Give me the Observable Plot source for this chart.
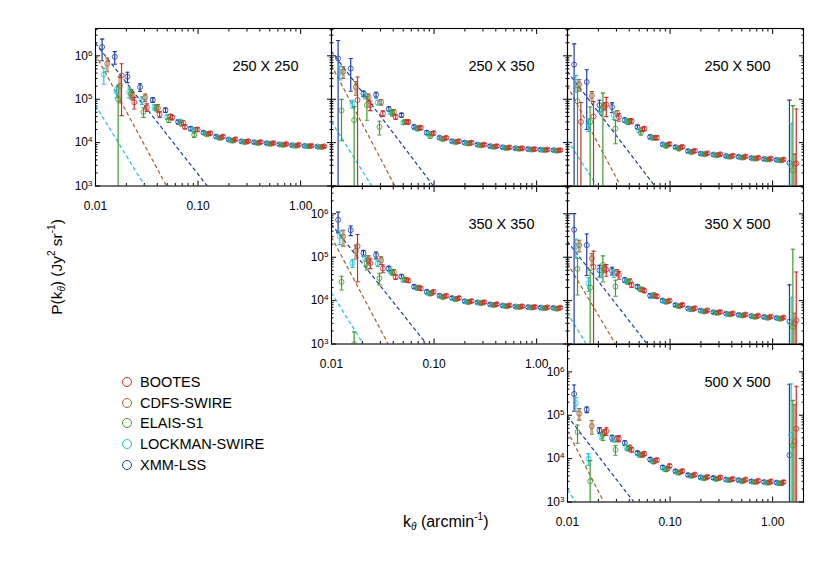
<!DOCTYPE html>
<html><head><meta charset="utf-8">
<script src="https://cdn.jsdelivr.net/npm/d3@7"></script>
<script src="https://cdn.jsdelivr.net/npm/@observablehq/plot@0.6"></script>
<style>
body{margin:0;background:#fff;}
#root{position:relative;width:830px;height:561px;font-family:"Liberation Sans",Arial,Helvetica,sans-serif;color:#000;overflow:hidden;background:#fff}
.ttl{position:absolute;white-space:nowrap;font-size:15.5px;line-height:1}
.ttl sub{font-size:10px;vertical-align:-3px;font-style:italic}
.ttl sup{font-size:10px;vertical-align:7px}
.leg{position:absolute;left:122px;height:18px;display:flex;align-items:center;font-size:14.5px;white-space:nowrap}
.leg span.c{display:inline-block;width:8px;height:8px;border-radius:50%;border:1.6px solid;margin-right:8px;box-sizing:content-box}
</style></head><body><div id="root"></div>
<script>
// ---------- data ----------
const kBins = [0.0116, 0.0154, 0.0205, 0.0272, 0.0362, 0.0481, 0.0639, 0.0849, 0.113, 0.150, 0.199, 0.265, 0.352, 0.468, 0.622, 0.826, 1.098, 1.459];
const seriesNames = ["BOOTES", "CDFS-SWIRE", "ELAIS-S1", "LOCKMAN-SWIRE", "XMM-LSS"];
const seriesColors = ["#d42a2a", "#a0602a", "#3d9c2c", "#22c4dc", "#1f3ca8"];
const panelLabels = ["250 X 250", "250 X 350", "250 X 500", "350 X 350", "350 X 500", "500 X 500"];
const xTickValues = [0.01, 0.1, 1];
const yTickValues = [1e3, 1e4, 1e5, 1e6];

// power spectra, rows = BOOTES, CDFS-SWIRE, ELAIS-S1, LOCKMAN-SWIRE, XMM-LSS
const pow250x250 = [
 [null,3.5e5,8.5e4,6.5e4,4.5e4,3.8e4,2.3e4,2.0e4,1.65e4,1.38e4,1.2e4,1.08e4,1.03e4,9.8e3,9.3e3,8.9e3,8.5e3,8.2e3],
 [6.6e5,2.05e5,1.2e5,1.1e5,6.3e4,4.0e4,2.9e4,2.0e4,1.6e4,1.3e4,1.13e4,1.05e4,1.0e4,9.5e3,9.0e3,8.6e3,8.3e3,8.0e3],
 [null,1.0e5,1.35e5,5.1e4,6.3e4,3.3e4,2.7e4,1.5e4,1.55e4,1.28e4,1.1e4,1.02e4,9.7e3,9.3e3,8.8e3,8.4e3,8.2e3,7.9e3],
 [3.7e5,1.5e5,1.45e5,9.5e4,6.6e4,3.9e4,3.1e4,2.0e4,1.62e4,1.33e4,1.15e4,1.05e4,1.0e4,9.5e3,9.0e3,8.6e3,8.3e3,8.0e3],
 [1.6e6,9.5e5,3.3e5,1.9e5,9.6e4,5.6e4,3.0e4,2.1e4,1.7e4,1.38e4,1.18e4,1.07e4,1.02e4,9.7e3,9.1e3,8.7e3,8.4e3,8.1e3]];
const err250x250 = [
 [null,.88,.3,.2,.15,.12,.1,.1,.08,.08,.07,.07,.07,.06,.06,.06,.06,.06],
 [.35,.6,.2,.2,.2,.12,.1,.1,.08,.08,.07,.07,.07,.06,.06,.06,.06,.06],
 [null,1.1,.25,.25,.15,.12,.1,.12,.08,.08,.07,.07,.07,.06,.06,.06,.06,.06],
 [.4,.28,.25,.2,.15,.12,.1,.1,.08,.08,.07,.07,.07,.06,.06,.06,.06,.06],
 [.52,.32,.27,.2,.12,.12,.1,.1,.08,.08,.07,.07,.07,.06,.06,.06,.06,.06]];

const pow250x350 = [
 [null,9.6e4,7.3e4,4.7e4,3.9e4,3.0e4,2.2e4,1.65e4,1.3e4,1.08e4,1.0e4,9.0e3,8.3e3,7.8e3,7.4e3,7.1e3,6.9e3,6.7e3],
 [4.3e5,1.9e5,1.1e5,8.6e4,5.1e4,3.0e4,2.2e4,1.6e4,1.25e4,1.05e4,9.7e3,8.8e3,8.1e3,7.6e3,7.3e3,7.0e3,6.8e3,6.6e3],
 [5.5e4,3.3e4,7.3e4,2.3e4,4.8e4,3.0e4,2.1e4,1.4e4,1.2e4,1.02e4,9.5e3,8.6e3,8.0e3,7.5e3,7.2e3,6.9e3,6.7e3,6.5e3],
 [4.3e5,7.9e4,1.2e5,8.4e4,5.1e4,2.9e4,2.2e4,1.6e4,1.25e4,1.05e4,9.8e3,8.8e3,8.1e3,7.6e3,7.3e3,7.0e3,6.8e3,6.6e3],
 [8.7e5,5.1e5,1.35e5,1.26e5,6.0e4,4.3e4,2.3e4,1.7e4,1.3e4,1.08e4,1.0e4,9.0e3,8.3e3,7.8e3,7.4e3,7.1e3,6.9e3,6.7e3]];
const err250x350 = [
 [null,2.4,.25,.15,.12,.1,.1,.1,.08,.08,.08,.07,.07,.07,.07,.07,.07,.07],
 [.3,.35,.2,.15,.12,.1,.1,.1,.08,.08,.08,.07,.07,.07,.07,.07,.07,.07],
 [.8,1.05,.55,.35,.15,.12,.1,.1,.08,.08,.08,.07,.07,.07,.07,.07,.07,.07],
 [.35,.2,.15,.12,.12,.1,.1,.1,.08,.08,.08,.07,.07,.07,.07,.07,.07,.07],
 [1.6,.7,.15,.15,.12,.1,.1,.1,.08,.08,.08,.07,.07,.07,.07,.07,.07,.07]];

const pow250x500 = [
 [3.0e4,4.0e4,7.5e4,3.9e4,3.1e4,2.1e4,1.3e4,9.3e3,8.0e3,6.5e3,5.7e3,5.4e3,5.0e3,4.8e3,4.5e3,4.3e3,4.1e3,3.3e3],
 [2.2e5,1.2e5,7.0e4,4.8e4,3.2e4,2.0e4,1.3e4,8.9e3,7.7e3,6.3e3,5.5e3,5.2e3,4.8e3,4.6e3,4.3e3,4.1e3,3.9e3,3.2e3],
 [9.0e4,3.0e4,6.6e4,2.1e4,3.0e4,1.7e4,1.3e4,8.3e3,7.2e3,6.0e3,5.4e3,5.1e3,4.7e3,4.5e3,4.3e3,4.1e3,3.9e3,2.3e3],
 [2.5e5,2.7e4,5.6e4,4.3e4,3.1e4,1.9e4,1.3e4,8.8e3,7.6e3,6.2e3,5.5e3,5.2e3,4.8e3,4.6e3,4.3e3,4.1e3,3.9e3,3.1e3],
 [6.3e5,2.5e5,7.3e4,6.6e4,3.3e4,2.3e4,1.35e4,9.1e3,7.9e3,6.4e3,5.6e3,5.3e3,4.9e3,4.7e3,4.4e3,4.2e3,4.0e3,3.4e3]];
const err250x500 = [
 [1.8,1.2,.47,.2,.12,.1,.1,.08,.08,.08,.07,.07,.07,.07,.07,.07,.07,17],
 [.3,.25,.2,.15,.12,.1,.1,.08,.08,.08,.07,.07,.07,.07,.07,.07,.07,.7],
 [1.1,1.2,1.1,.55,.12,.12,.1,.08,.08,.08,.07,.07,.07,.07,.07,.07,.07,30],
 [.42,.33,.2,.2,.12,.1,.1,.08,.08,.08,.07,.07,.07,.07,.07,.07,.07,8],
 [2.0,.92,.3,.25,.12,.1,.1,.08,.08,.08,.07,.07,.07,.07,.07,.07,.07,27]];

const pow350x350 = [
 [null,1.8e5,7.3e4,5.5e4,3.5e4,2.9e4,1.9e4,1.6e4,1.3e4,1.15e4,9.8e3,9.2e3,8.3e3,7.8e3,7.4e3,7.2e3,7.0e3,6.9e3],
 [3.0e5,1.4e5,9.0e4,8.5e4,4.6e4,3.0e4,2.0e4,1.5e4,1.25e4,1.1e4,9.4e3,8.9e3,8.0e3,7.5e3,7.2e3,7.0e3,6.8e3,6.6e3],
 [2.7e4,1.0e3,7.3e4,3.3e4,4.4e4,3.1e4,1.95e4,1.45e4,1.2e4,1.08e4,9.2e3,8.7e3,7.9e3,7.4e3,7.1e3,6.9e3,6.7e3,6.5e3],
 [3.0e5,7.3e4,9.5e4,7.2e4,4.8e4,3.0e4,2.0e4,1.5e4,1.25e4,1.1e4,9.4e3,8.9e3,8.0e3,7.5e3,7.2e3,7.0e3,6.8e3,6.6e3],
 [7.3e5,4.2e5,1.25e5,1.12e5,5.5e4,3.6e4,2.1e4,1.6e4,1.3e4,1.15e4,9.7e3,9.1e3,8.2e3,7.7e3,7.3e3,7.1e3,6.9e3,6.8e3]];
const err350x350 = [
 [null,.85,.25,.2,.12,.1,.1,.1,.08,.08,.08,.07,.07,.07,.07,.07,.07,.07],
 [.4,.35,.2,.2,.12,.1,.1,.1,.08,.08,.08,.07,.07,.07,.07,.07,.07,.07],
 [.35,.9,.3,.3,.12,.1,.1,.1,.08,.08,.08,.07,.07,.07,.07,.07,.07,.07],
 [.35,.2,.15,.15,.12,.1,.1,.1,.08,.08,.08,.07,.07,.07,.07,.07,.07,.07],
 [.5,.25,.15,.18,.12,.1,.1,.1,.08,.08,.08,.07,.07,.07,.07,.07,.07,.07]];

const pow350x500 = [
 [null,6.0e4,5.2e4,3.9e4,2.3e4,1.7e4,1.25e4,1.0e4,8.0e3,6.7e3,6.0e3,5.5e3,5.1e3,4.8e3,4.5e3,4.3e3,4.1e3,3.5e3],
 [1.9e5,9.4e4,5.5e4,4.5e4,2.8e4,1.8e4,1.3e4,9.6e3,7.6e3,6.4e3,5.7e3,5.3e3,4.9e3,4.6e3,4.3e3,4.1e3,3.9e3,3.0e3],
 [5.4e4,2.0e4,6.7e4,2.1e4,2.7e4,1.8e4,1.35e4,9.3e3,7.4e3,6.3e3,5.6e3,5.2e3,4.8e3,4.5e3,4.2e3,4.0e3,3.8e3,2.5e3],
 [1.8e5,2.5e4,4.5e4,4.3e4,2.8e4,1.9e4,1.25e4,9.6e3,7.6e3,6.4e3,5.7e3,5.3e3,4.9e3,4.6e3,4.3e3,4.1e3,3.9e3,3.0e3],
 [4.3e5,1.9e5,5.0e4,4.9e4,3.0e4,2.1e4,1.3e4,1.0e4,7.9e3,6.6e3,5.9e3,5.4e3,5.0e3,4.7e3,4.4e3,4.2e3,4.0e3,3.3e3]];
const err350x500 = [
 [null,1.3,.3,.2,.12,.1,.1,.08,.08,.08,.07,.07,.07,.07,.07,.07,.07,12],
 [.3,.3,.2,.15,.12,.1,.1,.08,.08,.08,.07,.07,.07,.07,.07,.07,.07,.7],
 [.75,1.5,.6,.4,.12,.1,.1,.08,.08,.08,.07,.07,.07,.07,.07,.07,.07,60],
 [.45,.35,.25,.2,.12,.1,.1,.08,.08,.08,.07,.07,.07,.07,.07,.07,.07,3],
 [1.35,.8,.3,.2,.12,.1,.1,.08,.08,.08,.07,.07,.07,.07,.07,.07,.07,6]];

const pow500x500 = [
 [null,null,4.3e4,2.9e4,1.6e4,1.3e4,9.3e3,6.8e3,5.2e3,4.3e3,3.8e3,3.7e3,3.4e3,3.3e3,3.1e3,3.0e3,2.9e3,4.9e4],
 [1.1e5,5.6e4,4.0e4,2.9e4,1.8e4,1.2e4,8.9e3,6.0e3,4.9e3,4.1e3,3.6e3,3.5e3,3.3e3,3.1e3,2.9e3,2.8e3,2.7e3,2.5e4],
 [4.1e4,3.0e3,3.5e4,1.6e4,1.7e4,1.25e4,8.5e3,5.6e3,4.7e3,4.0e3,3.5e3,3.4e3,3.2e3,3.0e3,2.9e3,2.8e3,2.7e3,2.0e4],
 [1.9e5,1.0e4,3.3e4,2.8e4,1.8e4,1.2e4,8.9e3,5.8e3,4.8e3,4.0e3,3.6e3,3.4e3,3.2e3,3.1e3,2.9e3,2.8e3,2.7e3,3.5e4],
 [3.1e5,1.35e5,4.5e4,3.0e4,2.3e4,1.35e4,9.6e3,6.3e3,5.1e3,4.2e3,3.7e3,3.6e3,3.3e3,3.2e3,3.0e3,2.9e3,2.8e3,1.2e4]];
const err500x500 = [
 [null,null,.2,.15,.12,.1,.1,.1,.08,.08,.08,.08,.08,.08,.08,.08,.08,8.5],
 [.3,.35,.15,.15,.12,.1,.1,.1,.08,.08,.08,.08,.08,.08,.08,.08,.08,6],
 [.45,2.0,.25,.25,.12,.1,.1,.1,.08,.08,.08,.08,.08,.08,.08,.08,.08,10],
 [.35,.3,.15,.15,.12,.1,.1,.1,.08,.08,.08,.08,.08,.08,.08,.08,.08,14],
 [.6,.15,.15,.15,.12,.1,.1,.1,.08,.08,.08,.08,.08,.08,.08,.08,.08,42]];

// dashed power-law components: [series, k1, P1, k2, P2]
const line250x250 = [["XMM-LSS",0.01,1.94e6,0.123,1e3],["CDFS-SWIRE",0.01,1.08e6,0.0493,1e3],["LOCKMAN-SWIRE",0.01,7.2e4,0.0303,1e3]];
const line250x350 = [["XMM-LSS",0.01,1.26e6,0.0986,1e3],["CDFS-SWIRE",0.01,6.0e5,0.0415,1e3],["LOCKMAN-SWIRE",0.01,3.0e4,0.0247,1e3]];
const line250x500 = [["XMM-LSS",0.01,4.3e5,0.071,1e3],["CDFS-SWIRE",0.01,2.0e5,0.033,1e3],["LOCKMAN-SWIRE",0.01,1.13e4,0.0193,1e3]];
const line350x350 = [["XMM-LSS",0.01,5.7e5,0.0845,1e3],["CDFS-SWIRE",0.01,2.9e5,0.0357,1e3],["LOCKMAN-SWIRE",0.01,1.5e4,0.0204,1e3]];
const line350x500 = [["XMM-LSS",0.01,2.3e5,0.0598,1e3],["CDFS-SWIRE",0.01,7.2e4,0.0294,1e3],["LOCKMAN-SWIRE",0.01,5.2e3,0.0152,1e3]];
const line500x500 = [["XMM-LSS",0.01,9.5e4,0.0444,1e3],["CDFS-SWIRE",0.01,4.3e4,0.0226,1e3],["LOCKMAN-SWIRE",0.01,1.9e3,0.012,1e3]];

// ---------- layout ----------
const panelPow = [pow250x250, pow250x350, pow250x500, pow350x350, pow350x500, pow500x500];
const panelErr = [err250x250, err250x350, err250x500, err350x350, err350x500, err500x500];
const panelLines = [line250x250, line250x350, line250x500, line350x350, line350x500, line500x500];
const panelCell = [[0,0],[1,0],[2,0],[1,1],[2,1],[2,2]]; // [col,row]
const colLeft = [95, 330.5, 566.5], rowTop = [28.3, 186, 343.5];
const FW = 236, FH = 157.5, ML = 50, MR = 12, MT = 12, MB = 34;
const seriesShift = [6.8, 5.1, 3.4, 1.7, 0];
const xDomain = [0.01, 2.0], yDomain = [1e3, 4.27e6];

const xMinor = [], yMinor = [];
for (const d of [0.01, 0.1, 1]) for (let m = 2; m <= 9; m++) if (d*m < 1.99) xMinor.push(d*m);
for (const d of [1e3, 1e4, 1e5, 1e6]) for (let m = 2; m <= 9; m++) if (d*m < 4.2e6) yMinor.push(d*m);

const capSymbol = {draw(ctx, size) { const w = Math.sqrt(size / Math.PI); ctx.moveTo(-w, 0); ctx.lineTo(w, 0); }};
const root = document.getElementById("root");

function makePanel(p) {
  const [col, row] = panelCell[p];
  const diag = col === row;
  const marks = [];
  const tickOpt = {tickFormat: () => "", label: null, strokeWidth: 1};
  for (const a of ["bottom", "top"]) {
    marks.push(Plot.axisX(xTickValues, {...tickOpt, anchor: a, tickSize: -5}));
    marks.push(Plot.axisX(xMinor, {...tickOpt, anchor: a, tickSize: -2.5}));
  }
  for (const a of ["left", "right"]) {
    marks.push(Plot.axisY(yTickValues, {...tickOpt, anchor: a, tickSize: -5}));
    marks.push(Plot.axisY(yMinor, {...tickOpt, anchor: a, tickSize: -2.5}));
  }
  // dashed components
  for (const [name, k1, p1, k2, p2] of panelLines[p]) {
    const c = seriesColors[seriesNames.indexOf(name)];
    marks.push(Plot.line([{k: k1, v: p1}, {k: k2, v: p2}], {x: "k", y: "v", stroke: c, strokeWidth: 1.2, strokeDasharray: "3,3.6", clip: true}));
  }
  // series
  const order = [4, 3, 2, 1, 0];
  for (const s of order) {
    const rows = [];
    panelPow[p][s].forEach((v, i) => {
      if (v == null) return;
      const e = panelErr[p][s][i];
      const lo = v * (1 - e);
      rows.push({k: kBins[i], v, e, hi: v * (1 + e), lo: lo > 0 ? lo : 1});
    });
    const c = seriesColors[s], dx = seriesShift[s];
    const wide = rows.filter(d => s === 1 && d.e >= 0.2);
    const thin = rows.filter(d => !(s === 1 && d.e >= 0.2));
    marks.push(Plot.ruleX(wide, {x: "k", y1: "lo", y2: "hi", stroke: c, strokeWidth: 3, strokeOpacity: 0.55, dx, clip: true}));
    marks.push(Plot.ruleX(thin, {x: "k", y1: "lo", y2: "hi", stroke: c, strokeWidth: 1.2, dx, clip: true}));
    marks.push(Plot.dot(rows, {x: "k", y: "hi", symbol: capSymbol, r: 2.1, stroke: c, fill: "none", strokeWidth: 1.1, dx, clip: true}));
    marks.push(Plot.dot(rows.filter(d => d.lo > yDomain[0]), {x: "k", y: "lo", symbol: capSymbol, r: 2.1, stroke: c, fill: "none", strokeWidth: 1.1, dx, clip: true}));
    marks.push(Plot.dot(rows, {x: "k", y: "v", r: 2.5, stroke: c, strokeOpacity: 0.8, fill: "none", strokeWidth: 1, dx, clip: true}));
  }
  marks.push(Plot.frame({stroke: "#000", strokeWidth: 1.1}));
  marks.push(Plot.text([panelLabels[p]], {text: d => d, frameAnchor: "top-right", dx: -33, dy: 42, lineAnchor: "bottom", fontSize: 14.5, fill: "#000"}));
  if (diag) {
    marks.push(Plot.axisX(xTickValues, {anchor: "bottom", tickSize: 0, tickPadding: 15, tickFormat: d3.format(".2f"), label: null, fontSize: 12}));
    marks.push(Plot.axisY(yTickValues, {anchor: "left", tickSize: 0, tickPadding: 3, tickFormat: d => "10|" + Math.round(Math.log10(d)), label: null, fontSize: 12}));
  }
  const svg = Plot.plot({
    width: FW + ML + MR, height: FH + MT + MB,
    marginLeft: ML, marginRight: MR, marginTop: MT, marginBottom: MB,
    x: {type: "log", domain: xDomain},
    y: {type: "log", domain: yDomain},
    style: {background: "transparent", overflow: "visible", fontFamily: '"Liberation Sans", Arial, sans-serif', fontSize: "12px", position: "absolute", left: (colLeft[col] - ML) + "px", top: (rowTop[row] - MT) + "px", maxWidth: "none", color: "#000"},
    marks
  });
  const ns = "http://www.w3.org/2000/svg";
  svg.querySelectorAll('g[aria-label="y-axis tick label"] text').forEach(t => {
    const s = t.textContent;
    if (!s.includes("|")) return;
    const [b, e] = s.split("|");
    t.textContent = "";
    const t1 = document.createElementNS(ns, "tspan"); t1.textContent = b;
    const t2 = document.createElementNS(ns, "tspan"); t2.textContent = e;
    t2.setAttribute("dy", "-0.5em"); t2.setAttribute("font-size", "8");
    t.append(t1, t2);
  });
  root.appendChild(svg);
}
for (let p = 0; p < 6; p++) makePanel(p);

// axis titles
const yt = document.createElement("div");
yt.className = "ttl";
yt.innerHTML = 'P(k<sub>θ</sub>) (Jy<sup>2</sup> sr<sup>-1</sup>)';
yt.style.left = "57px"; yt.style.top = "267px";
yt.style.transform = "translate(-50%,-50%) rotate(-90deg)";
root.appendChild(yt);
const xt = document.createElement("div");
xt.className = "ttl";
xt.style.fontSize = "16px";
xt.innerHTML = 'k<sub>θ</sub> (arcmin<sup>-1</sup>)';
xt.style.left = "403px"; xt.style.top = "512px";
root.appendChild(xt);

// legend
const legendY = [381.7, 402.7, 423.3, 444, 464.7];
seriesNames.forEach((n, i) => {
  const d = document.createElement("div");
  d.className = "leg";
  d.style.top = (legendY[i] - 9) + "px";
  d.innerHTML = `<span class="c" style="border-color:${seriesColors[i]}"></span><span>${n}</span>`;
  root.appendChild(d);
});
</script></body></html>
